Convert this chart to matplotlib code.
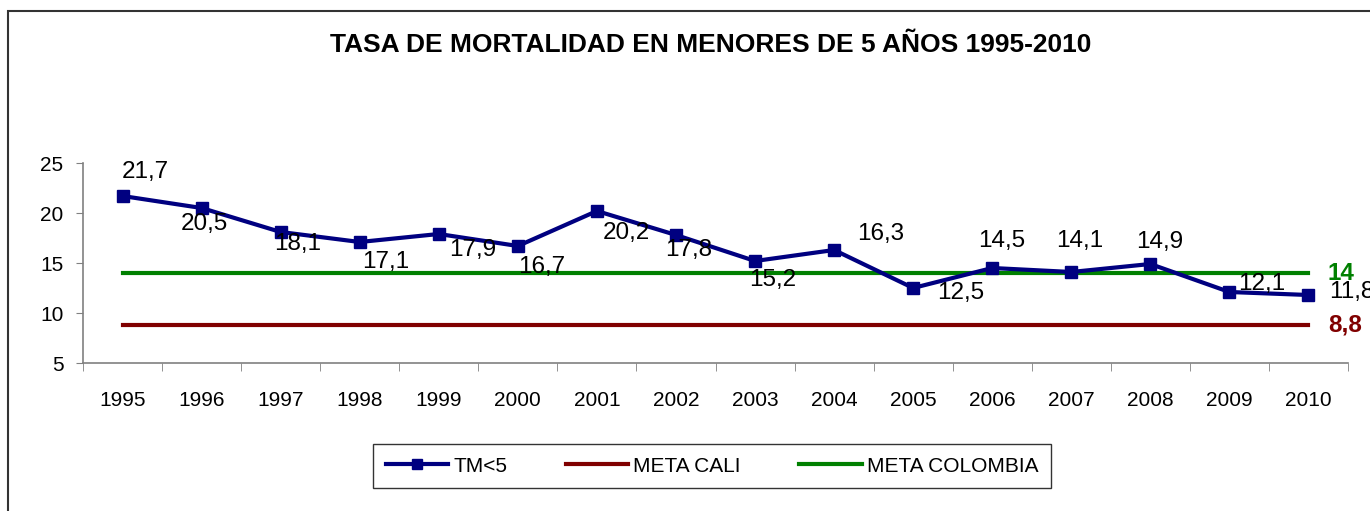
import matplotlib
matplotlib.use("Agg")
import matplotlib.pyplot as plt
from matplotlib.patches import Rectangle

plt.rcParams['font.family'] = ['Liberation Sans', 'DejaVu Sans']

years = ['1995', '1996', '1997', '1998', '1999', '2000', '2001', '2002',
         '2003', '2004', '2005', '2006', '2007', '2008', '2009', '2010']
tm5 = [21.7, 20.5, 18.1, 17.1, 17.9, 16.7, 20.2, 17.8,
       15.2, 16.3, 12.5, 14.5, 14.1, 14.9, 12.1, 11.8]
meta_cali = 8.8
meta_colombia = 14

# label offsets in pixels (dx, dy), hand placed like the excel chart
lbl_off = [(23, 24), (3, -16), (17, -12), (26, -20), (34, -16), (24, -21),
           (29, -22), (13, -15), (18, -19), (47, 16), (48, -5), (9, 27),
           (8, 31), (9, 22), (32, 8), (43, 3)]

navy = '#000080'
dred = '#800000'
green = '#008000'

fig = plt.figure(figsize=(13.7, 5.11), dpi=100)
ax = fig.add_axes([83/1370, 1-363/511, (1348-83)/1370, 200/511])

x = list(range(len(years)))
ax.plot(x, tm5, color=navy, lw=3, marker='s', ms=9, label='TM<5', zorder=4)
ax.plot(x, [meta_cali]*len(x), color=dred, lw=3, label='META CALI', zorder=3)
ax.plot(x, [meta_colombia]*len(x), color=green, lw=3, label='META COLOMBIA', zorder=3)

for i, v in enumerate(tm5):
    dx, dy = lbl_off[i]
    ax.annotate(f"{v:.1f}".replace('.', ','), (i, v), xytext=(dx, dy),
                textcoords='offset pixels', ha='center', va='center',
                fontsize=17.5, annotation_clip=False, zorder=5)

ax.annotate('14', (len(x)-1, meta_colombia), xytext=(32, 0), textcoords='offset pixels',
            ha='center', va='center', fontsize=17.5, fontweight='bold', color=green,
            annotation_clip=False)
ax.annotate('8,8', (len(x)-1, meta_cali), xytext=(37, 0), textcoords='offset pixels',
            ha='center', va='center', fontsize=17.5, fontweight='bold', color=dred,
            annotation_clip=False)

ax.set_xlim(-0.5, len(x)-0.5)
ax.set_ylim(5, 25)
ax.set_yticks([5, 10, 15, 20, 25])
ax.set_xticks(x)
ax.set_xticklabels(years)
ax.set_xticks([i + 0.5 for i in range(-1, len(x))], minor=True)
ax.tick_params(axis='x', which='major', length=0, pad=20, labelsize=15)
ax.tick_params(axis='x', which='minor', length=6, color='#808080', direction='out')
ax.tick_params(axis='y', length=5, color='#808080', pad=9, labelsize=15)
for s in ['top', 'right']:
    ax.spines[s].set_visible(False)
for s in ['left', 'bottom']:
    ax.spines[s].set_color('#808080')
    ax.spines[s].set_linewidth(1.2)

fig.text(711/1370, 1-45/511, 'TASA DE MORTALIDAD EN MENORES DE 5 AÑOS 1995-2010',
         ha='center', va='center', fontsize=19, fontweight='bold')

leg = fig.legend(loc='center', bbox_to_anchor=(712/1370, 1-466/511), ncol=3,
                 fontsize=15, frameon=True, fancybox=False, handlelength=3,
                 handletextpad=0.25, columnspacing=2.8, borderpad=0.6,
                 borderaxespad=0, markerscale=0.85)
leg.get_frame().set_edgecolor('black')
leg.get_frame().set_linewidth(1)

# outer chart border (cut off at right and bottom in the original)
fig.patches.append(Rectangle((8/1370, -0.1), 1.2, 1-11/511+0.1, transform=fig.transFigure,
                             fill=False, edgecolor='#333333', lw=1.5))

fig.savefig('out.png', dpi=100)
